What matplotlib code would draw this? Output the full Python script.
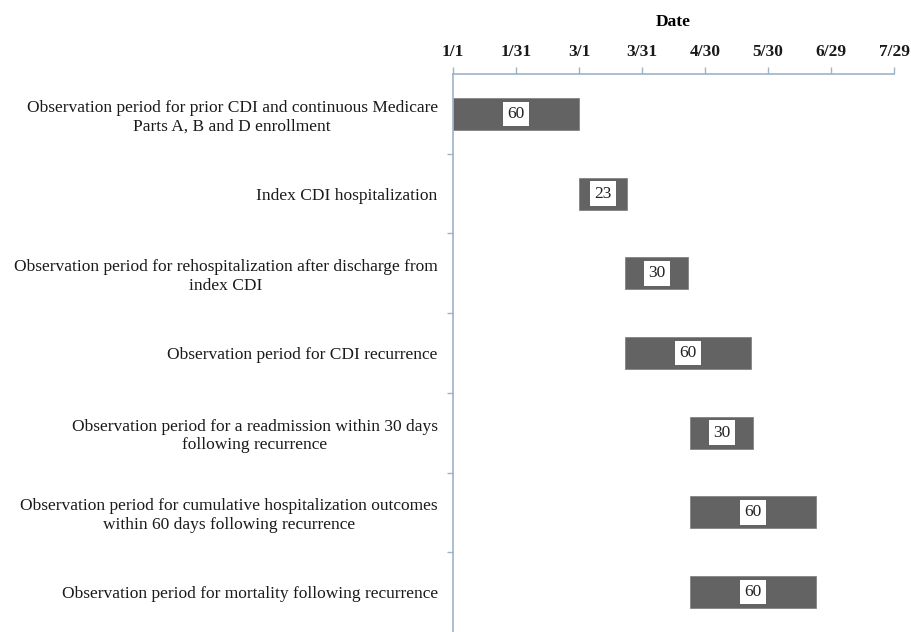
#!/usr/bin/env python3
"""Observation-period timeline (Gantt style) for the CDI cohort."""

import matplotlib.pyplot as plt

plt.rcParams['font.family'] = ['Liberation Serif', 'DejaVu Serif']

# --- data ---
periods = [
    'Observation period for prior CDI and continuous Medicare\nParts A, B and D enrollment',
    'Index CDI hospitalization',
    'Observation period for rehospitalization after discharge from\nindex CDI',
    'Observation period for CDI recurrence',
    'Observation period for a readmission within 30 days\nfollowing recurrence',
    'Observation period for cumulative hospitalization outcomes\nwithin 60 days following recurrence',
    'Observation period for mortality following recurrence',
]
start_day = [0, 60, 82, 82, 113, 113, 113]
duration = [60, 23, 30, 60, 30, 60, 60]
tick_days = [0, 30, 60, 90, 120, 150, 180, 210]
tick_labels = ['1/1', '1/31', '3/1', '3/31', '4/30', '5/30', '6/29', '7/29']

bar_color = '#636363'
axis_color = '#9fb3c8'

fig = plt.figure(figsize=(9.12, 6.32), dpi=100)
ax = fig.add_axes([453 / 912, 0.0, (894 - 453) / 912, 1 - 74 / 632])

ypos = list(range(len(periods)))
ax.barh(ypos, duration, left=start_day, height=0.4, color=bar_color,
        edgecolor='#7a7a7a', linewidth=0.5)

# white boxed duration labels in the middle of each bar
for y, s, d in zip(ypos, start_day, duration):
    ax.text(s + d / 2, y, str(d), ha='center', va='center',
            fontsize=12.5, color='#222222',
            bbox=dict(boxstyle='square,pad=0.25', facecolor='white',
                      edgecolor='none'))

ax.set_xlim(0, 210)
ax.set_ylim(len(periods) - 0.5, -0.5)

# x axis on top
ax.xaxis.tick_top()
ax.xaxis.set_label_position('top')
ax.set_xticks(tick_days)
ax.set_xticklabels(tick_labels, fontsize=12.5, fontweight='bold', color='#1a1a1a')
ax.tick_params(axis='x', direction='out', length=5, width=1,
               color=axis_color, pad=5)
ax.set_xlabel('Date', fontsize=12.5, fontweight='bold', labelpad=13)

# y axis: labels at row centres, little ticks at row boundaries
ax.set_yticks(ypos)
ax.set_yticklabels(periods, fontsize=12.5, color='#1a1a1a', multialignment='center')
ax.tick_params(axis='y', which='major', length=0, pad=11)
ax.set_yticks([y + 0.5 for y in ypos[:-1]], minor=True)
ax.tick_params(axis='y', which='minor', direction='out', length=4, width=1,
               color=axis_color)

for side in ['right', 'bottom']:
    ax.spines[side].set_visible(False)
for side in ['left', 'top']:
    ax.spines[side].set_color(axis_color)
    ax.spines[side].set_linewidth(1.2)

fig.savefig('out.png', dpi=100)
